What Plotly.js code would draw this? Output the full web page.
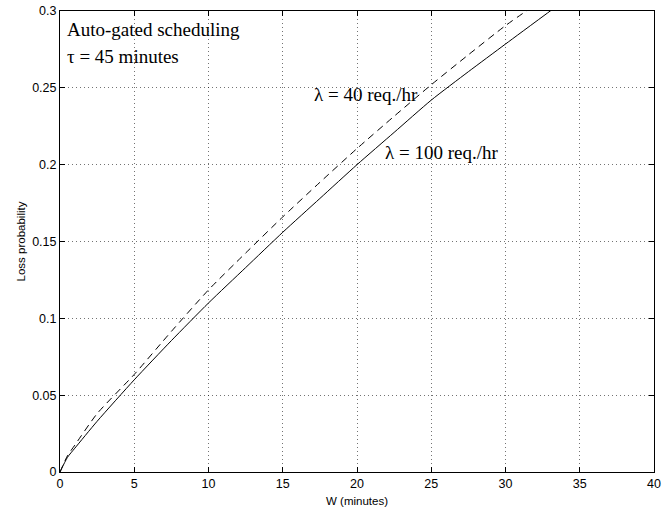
<!DOCTYPE html>
<html>
<head>
<meta charset="utf-8">
<script src="https://cdn.plot.ly/plotly-3.0.1.min.js"></script>
<style>
  html, body { margin: 0; padding: 0; background: #fff; }
  #chart { width: 672px; height: 510px; }
</style>
</head>
<body>
<div id="chart"></div>
<script>
// Waiting time W (minutes) and loss probability for two request rates
const wait100 = [0, 0.5, 1, 2.5, 5, 7.5, 10, 12.5, 15, 17.5, 20, 22.5, 25, 27.5, 30, 33.5];
const loss100 = [0, 0.0095, 0.0155, 0.033, 0.060, 0.0855, 0.110, 0.133, 0.156, 0.178, 0.200, 0.221, 0.242, 0.2605, 0.2785, 0.3035];

const wait40 = [0, 0.5, 1, 2.5, 5, 7.5, 10, 12.5, 15, 17.5, 20, 22.5, 25, 27.5, 30, 32];
const loss40 = [0, 0.0105, 0.0175, 0.038, 0.0635, 0.0915, 0.1185, 0.1425, 0.166, 0.1885, 0.2105, 0.2315, 0.252, 0.2715, 0.2905, 0.304];

const xTicks = [0, 5, 10, 15, 20, 25, 30, 35, 40];
const yTicks = [0, 0.05, 0.1, 0.15, 0.2, 0.25, 0.3];

const sans = 'Liberation Sans, Arial, Helvetica, sans-serif';
const serif = 'Liberation Serif, Times New Roman, Times, serif';

const traces = [
  {
    x: wait100, y: loss100, type: 'scatter', mode: 'lines',
    line: { color: '#000', width: 1, shape: 'spline', smoothing: 0.6 },
    hoverinfo: 'skip'
  },
  {
    x: wait40, y: loss40, type: 'scatter', mode: 'lines',
    line: { color: '#000', width: 1, dash: '7px,5px', shape: 'spline', smoothing: 0.6 },
    hoverinfo: 'skip'
  }
];

const axisCommon = {
  showline: true, linecolor: '#000', linewidth: 1, mirror: 'ticks',
  ticks: 'inside', ticklen: 5, tickwidth: 1, tickcolor: '#000',
  showgrid: true, gridcolor: 'rgba(0,0,0,0.55)', gridwidth: 1, griddash: '1px,3px',
  zeroline: false,
  tickfont: { family: sans, size: 12.5, color: '#000' }
};

const layout = {
  width: 672, height: 510,
  margin: { l: 60, r: 18, t: 11, b: 38 },
  paper_bgcolor: '#fff', plot_bgcolor: '#fff',
  showlegend: false,
  xaxis: Object.assign({}, axisCommon, {
    range: [0, 40], tickvals: xTicks, ticktext: xTicks.map(String),
    title: { text: 'W (minutes)', font: { family: sans, size: 11.5, color: '#000' }, standoff: 6 }
  }),
  yaxis: Object.assign({}, axisCommon, {
    range: [0, 0.3], tickvals: yTicks, ticktext: yTicks.map(String),
    title: { text: 'Loss probability', font: { family: sans, size: 11.5, color: '#000' }, standoff: 4 }
  }),
  annotations: [
    { x: 0.34, y: 0.2877, xref: 'x', yref: 'y', xanchor: 'left', yanchor: 'middle',
      text: 'Auto-gated scheduling', showarrow: false,
      font: { family: serif, size: 19, color: '#000' } },
    { x: 0.34, y: 0.2705, xref: 'x', yref: 'y', xanchor: 'left', yanchor: 'middle',
      text: 'τ = 45 minutes', showarrow: false,
      font: { family: serif, size: 19, color: '#000' } },
    { x: 16.98, y: 0.2454, xref: 'x', yref: 'y', xanchor: 'left', yanchor: 'middle',
      text: 'λ = 40 req./hr', showarrow: false,
      font: { family: serif, size: 19, color: '#000' } },
    { x: 21.77, y: 0.2077, xref: 'x', yref: 'y', xanchor: 'left', yanchor: 'middle',
      text: 'λ = 100 req./hr', showarrow: false,
      font: { family: serif, size: 19, color: '#000' } }
  ]
};

Plotly.newPlot('chart', traces, layout, { displayModeBar: false, staticPlot: true });
</script>
</body>
</html>
